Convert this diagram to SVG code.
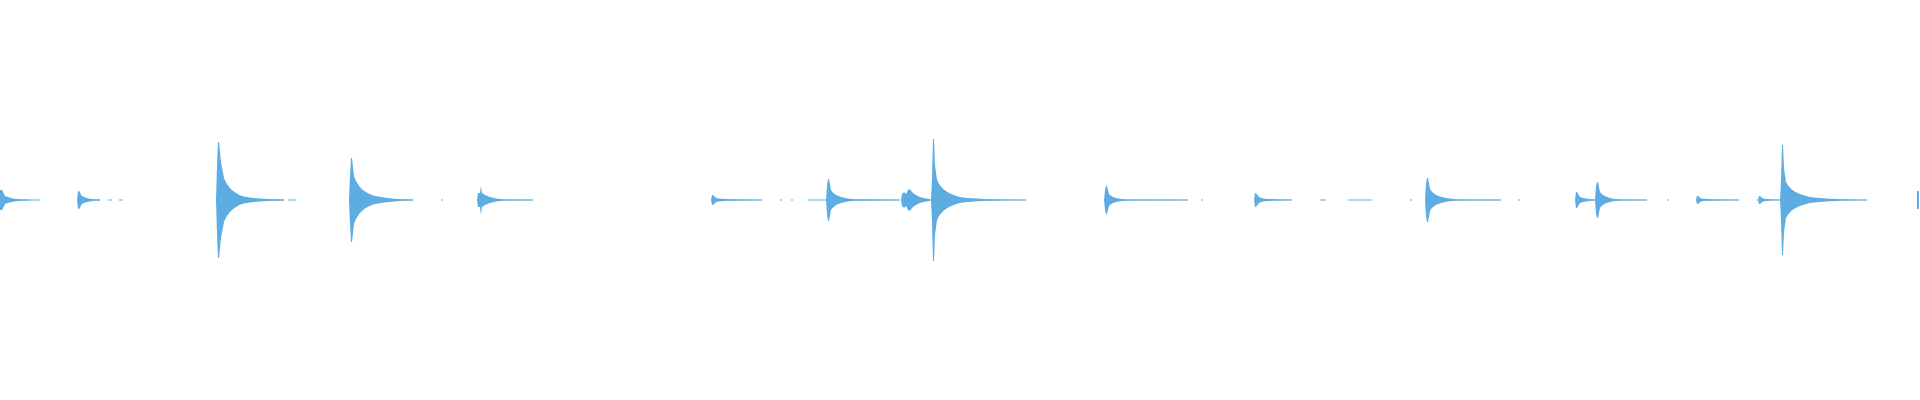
<svg xmlns="http://www.w3.org/2000/svg" width="1920" height="400" viewBox="0 0 1920 400">
<style>.w{fill:#5dade2}.l{stroke:#5dade2;stroke-width:1.2;fill:none}.s{stroke:#5dade2;stroke-width:1.5}</style>
<rect width="1920" height="400" fill="#fff"/>
<g id="waveform">
<path class="l" d="M0 200H40M77 200H100M108 200H112M119 200H123M218 200H284M288 200H296M351 200H413M441 200H443M478 200H533M711 200H762M780 200H782M791 200H793M808 200H900M902 200H1026M1105 200H1188M1201 200H1203M1254 200H1292M1320 200H1326M1348 200H1372M1410 200H1412M1426 200H1501M1518 200H1520M1575 200H1647M1667 200H1669M1696 200H1739M1757 200H1867"/>
<path class="w" d="M0 190L2 190L5 196C10 198.5 18 199.5 30 199.6V200.4C18 200.5 10 201.5 5 204L2 210L0 210Z"/>
<path class="w" d="M77 200L78 191L79 191L82 196C86 198.5 92 199.4 100 199.6V200.4C92 200.6 86 201.5 82 204L79 209L78 209Z"/>
<path class="w" d="M216 200L217 165L218 142L219 142L221 162L224 178C228 188 234 193 242 196C252 198.5 265 199.4 284 199.6V200.4C265 200.6 252 201.5 242 204C234 207 228 212 224 222L221 238L219 258L218 258L217 235Z"/>
<path class="w" d="M349 200L350 176L351 158L352 158L354 176C358 188 365 193 375 196C388 198.5 400 199.4 413 199.6V200.4C400 200.6 388 201.5 375 204C365 207 358 212 354 224L352 242L351 242L350 224Z"/>
<path class="w" d="M477 200L478 193L480 193L481 186L482 193C486 196 492 198.5 505 199.5L533 199.7V200.3L505 200.5C492 201.5 486 204 482 207L481 215L480 207L478 207Z"/>
<path class="w" d="M711 200L712 195L713 195L716 198C722 199.3 740 199.6 762 199.7V200.3C740 200.4 722 200.7 716 202L713 205L712 205Z"/>
<path class="w" d="M826 200L827 186L828 179L829 179L831 190C834 195 840 198 855 199.3L900 199.7V200.3L855 200.7C840 202 834 205 831 210L829 221L828 221L827 214Z"/>
<path class="w" d="M901 200L902 194L904 192L906 194L908 190L910 189L912 192C915 195 920 198 930 199V201C920 202 915 205 912 208L910 211L908 210L906 206L904 208L902 206Z"/>
<path class="w" d="M931 200L932 179L933 139L934 139L935 165L937 180C941 189 948 194 960 197C975 199 995 199.6 1026 199.7V200.3C995 200.4 975 201 960 203C948 206 941 211 937 220L935 235L934 261L933 261L932 221Z"/>
<path class="w" d="M1104 200L1105 190L1106 186L1107 186L1109 194C1112 197.5 1118 199.3 1130 199.6L1188 199.7V200.3L1130 200.4C1118 200.7 1112 202.5 1109 206L1107 214L1106 214L1105 210Z"/>
<path class="w" d="M1254 200L1255 193L1256 193L1259 197C1263 199 1270 199.5 1292 199.7V200.3C1270 200.5 1263 201 1259 203L1256 207L1255 207Z"/>
<path class="w" d="M1425 200L1426 184L1427 178L1428 178L1430 189C1433 195 1440 198 1458 199.4L1501 199.7V200.3L1458 200.6C1440 202 1433 205 1430 211L1428 222L1427 222L1426 216Z"/>
<path class="w" d="M1575 200L1576 192L1577 192L1580 197C1584 198.8 1590 199.3 1596 199.5V200.5C1590 200.7 1584 201.2 1580 203L1577 208L1576 208Z"/>
<path class="w" d="M1595 200L1596 186L1597 182L1598 182L1600 192C1603 196 1608 198.5 1620 199.4L1647 199.7V200.3L1620 200.6C1608 201.5 1603 204 1600 208L1598 218L1597 218L1596 214Z"/>
<path class="w" d="M1696 200L1697 196L1698 196L1701 198.5C1708 199.5 1720 199.6 1739 199.7V200.3C1720 200.4 1708 200.5 1701 201.5L1698 204L1697 204Z"/>
<path class="w" d="M1758 200L1759 196L1760 196L1763 198.5C1768 199.4 1774 199.6 1782 199.7V200.3C1774 200.4 1768 200.6 1763 201.5L1760 204L1759 204Z"/>
<path class="w" d="M1780 200L1781 180L1782 145L1783 145L1784 168L1786 182C1790 190 1797 194 1810 197C1828 199 1845 199.6 1867 199.7V200.3C1845 200.4 1828 201 1810 203C1797 206 1790 210 1786 218L1784 232L1783 255L1782 255L1781 220Z"/>
<rect class="w" x="1917" y="191" width="2" height="18"/>
</g>
</svg>
